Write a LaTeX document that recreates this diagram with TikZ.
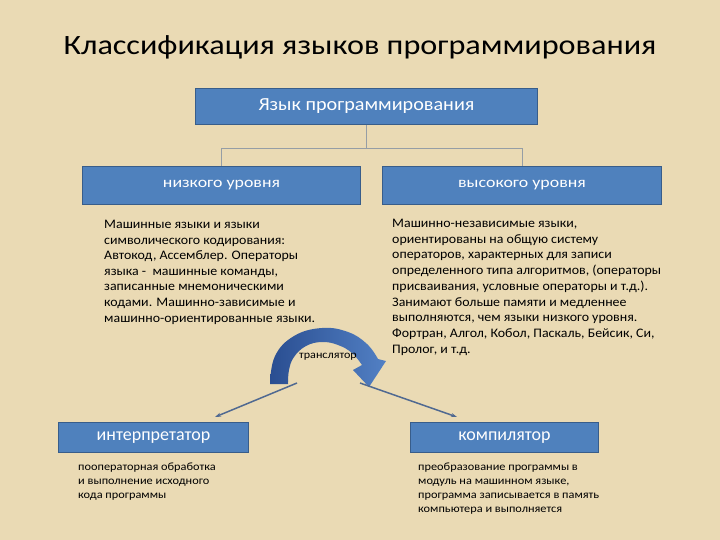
\documentclass[tikz,border=0pt]{standalone}
\usepackage{fontspec}
\setmainfont{Carlito}
\newfontfamily\titlefont[FakeStretch=1.15]{Carlito}
\newfontfamily\bodyfont[FakeStretch=1.07]{Carlito}
\newfontfamily\smallfont[FakeStretch=1.1]{Carlito}
\newfontfamily\topfont[FakeStretch=1.09]{Carlito}
\newfontfamily\lvlfont[FakeStretch=1.19]{Carlito}
\usetikzlibrary{arrows.meta}
\definecolor{bg}{RGB}{234,218,180}
\definecolor{boxblue}{RGB}{79,129,189}
\definecolor{boxedge}{RGB}{56,93,138}
\definecolor{conncol}{RGB}{150,158,165}
\definecolor{arrowdark}{RGB}{42,78,145}
\definecolor{arrowlight}{RGB}{82,128,196}
\definecolor{linkcol}{RGB}{80,105,145}
\begin{document}
\begin{tikzpicture}[x=1pt,y=-1pt,
  box/.style={draw=boxedge, line width=1pt, fill=boxblue, text=white, inner sep=0pt, anchor=north west},
  body/.style={anchor=north west, inner sep=0pt, align=left, text=black},
  conn/.style={draw=conncol, line width=0.8pt},
  link/.style={draw=linkcol, line width=1.5pt, -{Stealth[length=6pt,width=4pt]}}]
\fill[bg] (0,0) rectangle (720,540);
\useasboundingbox (0,0) rectangle (720,540);

\node[anchor=base, inner sep=0pt, font=\titlefont\fontsize{28}{34}\selectfont] (title) at (360,55) {Классификация языков программирования};

\node[box, minimum width=342pt, minimum height=36pt, font=\topfont\fontsize{18.5}{22}\selectfont] (top) at (195,88) {Язык программирования};
\node[box, minimum width=278pt, minimum height=38pt, font=\lvlfont\fontsize{15}{18}\selectfont] (low) at (82,166) {низкого уровня};
\node[box, minimum width=279pt, minimum height=38pt, font=\lvlfont\fontsize{15}{18}\selectfont] (high) at (382,166) {высокого уровня};

\draw[conn] (top.south) -- ++(0,23) -| (low.north);
\draw[conn] (top.south) -- ++(0,23) -| (high.north);

\node[body, font=\bodyfont\fontsize{13}{15.6}\selectfont] (lowtext) at (104,220) {Машинные языки и языки\\символического кодирования:\\Автокод, Ассемблер. Операторы\\языка -\ \ машинные команды,\\записанные мнемоническими\\кодами. Машинно-зависимые и\\машинно-ориентированные языки.};

\node[body, font=\bodyfont\fontsize{13}{15.7}\selectfont] (hightext) at (392,219) {Машинно-независимые языки,\\ориентированы на общую систему\\операторов, характерных для записи\\определенного типа алгоритмов, (операторы\\присваивания, условные операторы и т.д.).\\Занимают больше памяти и медленнее\\выполняются, чем языки низкого уровня.\\Фортран, Алгол, Кобол, Паскаль, Бейсик, Си,\\Пролог, и т.д.};

% curved translator arrow
\shade[left color=arrowdark, right color=arrowlight]
  plot[smooth, tension=0.7] coordinates {(270,384) (275,356) (294,336) (322,328) (348,332) (367,344) (378,359)}
  -- (386,361) -- (369,387) -- (353,370)
  -- plot[smooth, tension=0.7] coordinates {(362,365) (352,353) (338,345) (322,342) (306,346) (294,357) (289,370) (288,384)}
  -- cycle;
\node[anchor=base, inner sep=0pt, font=\smallfont\fontsize{11}{13}\selectfont] (trans) at (328,358) {транслятор};

\node[box, minimum width=190pt, minimum height=30pt, font=\fontsize{18}{21}\selectfont] (interp) at (58,422) {интерпретатор};
\node[box, minimum width=188pt, minimum height=30pt, font=\fontsize{18}{21}\selectfont] (comp) at (410,422) {компилятор};

\coordinate (f1) at (297,383);
\coordinate (f2) at (360,383);
\draw[link] (f1) -- ([xshift=-34pt,yshift=5pt]interp.north east);
\draw[link] (f2) -- ([xshift=47pt,yshift=5pt]comp.north west);

\node[body, font=\smallfont\fontsize{11.2}{14}\selectfont] (interptext) at (78,463) {пооператорная обработка\\и выполнение исходного\\кода программы};
\node[body, font=\smallfont\fontsize{11.2}{14}\selectfont] (comptext) at (418,463) {преобразование программы в\\модуль на машинном языке,\\программа записывается в память\\компьютера и выполняется};
\end{tikzpicture}
\end{document}
